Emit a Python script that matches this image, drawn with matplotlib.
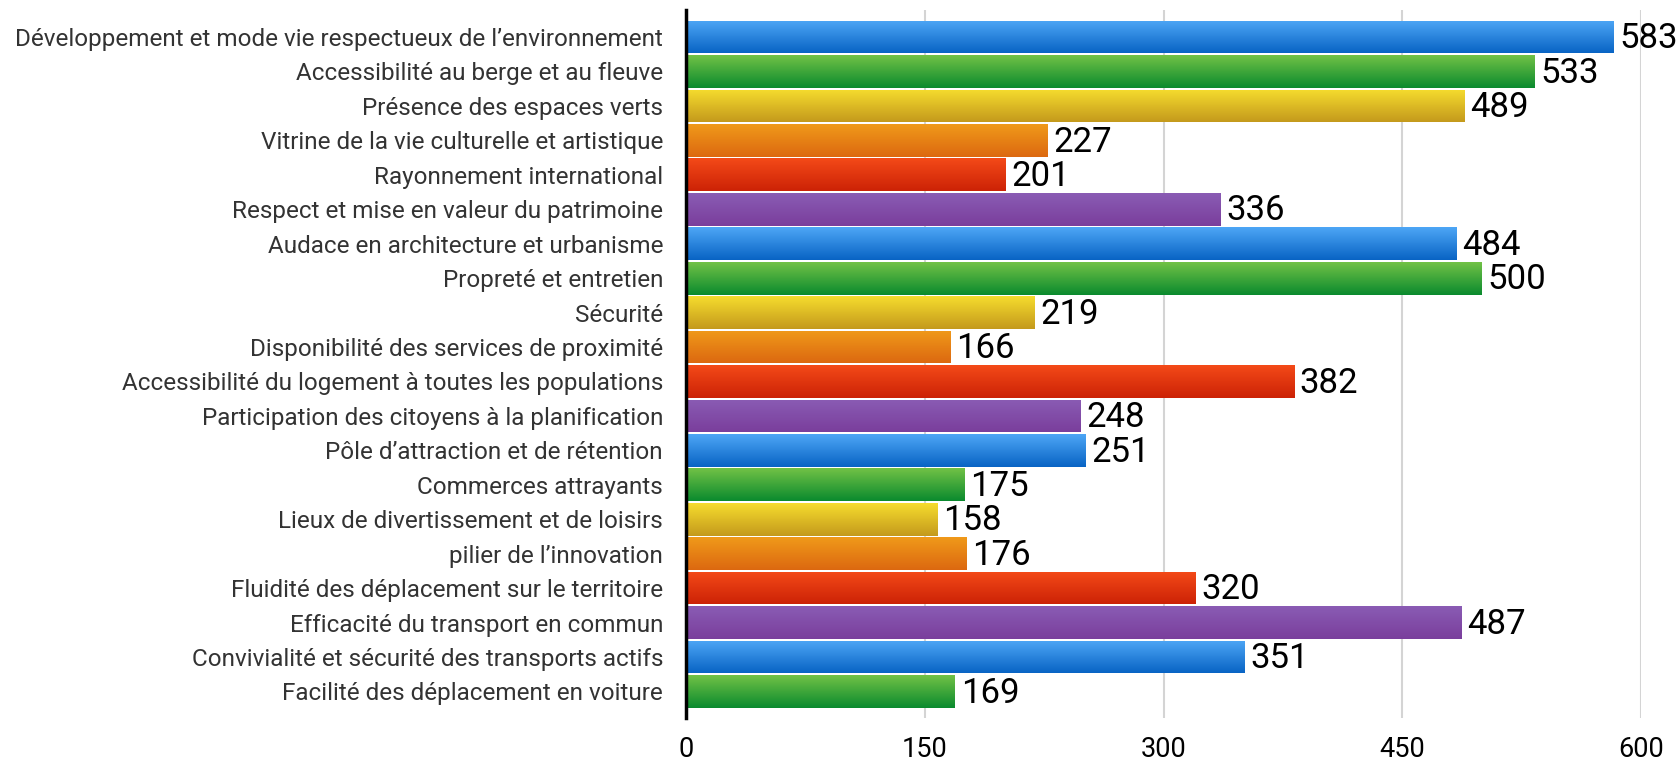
import matplotlib
matplotlib.use("Agg")
import matplotlib.pyplot as plt
import numpy as np
from matplotlib.colors import LinearSegmentedColormap

categories = [
    "Développement et mode vie respectueux de l’environnement",
    "Accessibilité au berge et au fleuve",
    "Présence des espaces verts",
    "Vitrine de la vie culturelle et artistique",
    "Rayonnement international",
    "Respect et mise en valeur du patrimoine",
    "Audace en architecture et urbanisme",
    "Propreté et entretien",
    "Sécurité",
    "Disponibilité des services de proximité",
    "Accessibilité du logement à toutes les populations",
    "Participation des citoyens à la planification",
    "Pôle d’attraction et de rétention",
    "Commerces attrayants",
    "Lieux de divertissement et de loisirs",
    "pilier de l’innovation",
    "Fluidité des déplacement sur le territoire",
    "Efficacité du transport en commun",
    "Convivialité et sécurité des transports actifs",
    "Facilité des déplacement en voiture",
]
values = [583, 533, 489, 227, 201, 336, 484, 500, 219, 166,
          382, 248, 251, 175, 158, 176, 320, 487, 351, 169]
xticks = [0, 150, 300, 450, 600]

# gradient (top, bottom) colour pairs, cycled
palette = [
    ("#4ea6f6", "#0864c4"),  # blue
    ("#72c246", "#0a8a2e"),  # green
    ("#f6dc2e", "#c49a1c"),  # yellow
    ("#f09a1a", "#dc6810"),  # orange
    ("#f44a18", "#cc2206"),  # red
    ("#8a5cb4", "#7a3e9c"),  # purple
]

plt.rcParams['font.family'] = ['Roboto', 'DejaVu Sans']

fig = plt.figure(figsize=(16.79, 7.60), dpi=100)
ax = fig.add_axes([0.4086, 0.0553, 0.9774 - 0.4086, 0.9875 - 0.0553])

n = len(categories)
ypos = np.arange(n)
bars = ax.barh(ypos, values, height=0.95, color="none", edgecolor="none", zorder=3)

grad = np.linspace(0, 1, 256).reshape(-1, 1)
for i, b in enumerate(bars):
    top, bot = palette[i % len(palette)]
    cmap = LinearSegmentedColormap.from_list(f"g{i}", [top, bot])
    x0, y0 = b.get_x(), b.get_y()
    w, h = b.get_width(), b.get_height()
    # inverted y-axis: y0 is visually the top edge
    im = ax.imshow(grad, cmap=cmap, aspect="auto",
                   extent=(x0, x0 + w, y0 + h, y0), zorder=3,
                   interpolation="bilinear")
    im.set_clip_path(b)
    ax.text(x0 + w + 3.5, y0 + h / 2 + 0.05, str(values[i]), va="center", ha="left",
            fontsize=25, color="black", zorder=4)

ax.set_xlim(0, 600)
ax.set_ylim(n - 1 + 0.77, -0.8)
ax.set_yticks(ypos)
ax.set_yticklabels(categories, fontsize=17.5, color="#333333")
ax.set_xticks(xticks)
ax.set_xticklabels([str(t) for t in xticks], fontsize=19.5, color="black")
ax.tick_params(axis="y", length=0, pad=16.5)
ax.tick_params(axis="x", length=0, pad=13)

ax.xaxis.grid(True, color="#d4d4d4", linewidth=1.5, zorder=0)
ax.set_axisbelow(True)
for s in ["top", "right", "bottom"]:
    ax.spines[s].set_visible(False)
ax.spines["left"].set_linewidth(2.5)
ax.spines["left"].set_color("black")
ax.spines["left"].set_zorder(5)

fig.savefig("out.png", dpi=100, facecolor="white")
